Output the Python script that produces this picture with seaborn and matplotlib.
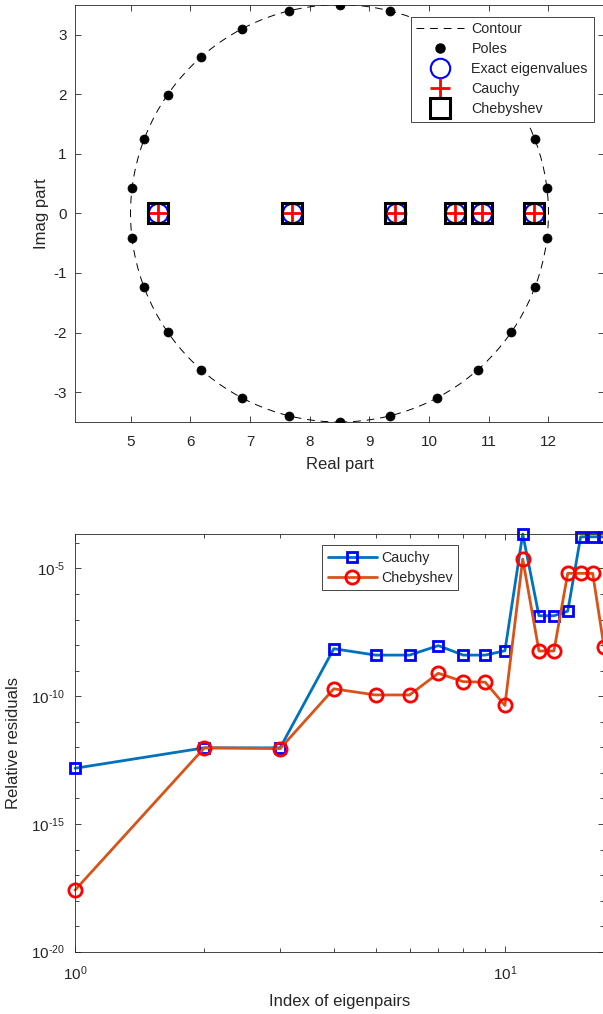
import numpy as np
import pandas as pd
import matplotlib
matplotlib.use("Agg")
import matplotlib.pyplot as plt
from matplotlib.patches import Circle
from matplotlib.lines import Line2D
from matplotlib import ticker
import seaborn as sns

# --- top panel: contour, poles, eigenvalues ---
contour_center = (8.5, 0.0)
contour_radius = 3.5

pole_re = [8.50, 7.66, 6.87, 6.18, 5.62, 5.23, 5.03, 5.03, 5.23, 5.62, 6.18, 6.87, 7.66,
           8.50, 9.34, 10.13, 10.82, 11.38, 11.77, 11.97, 11.97, 11.77, 11.38, 10.82, 10.13, 9.34]
pole_im = [3.50, 3.40, 3.10, 2.62, 1.99, 1.24, 0.42, -0.42, -1.24, -1.99, -2.62, -3.10, -3.40,
           -3.50, -3.40, -3.10, -2.62, -1.99, -1.24, -0.42, 0.42, 1.24, 1.99, 2.62, 3.10, 3.40]

exact_re = [5.46, 7.71, 9.44, 10.44, 10.89, 11.76]
exact_im = [0, 0, 0, 0, 0, 0]
cauchy_re = [5.46, 7.71, 9.43, 10.43, 10.88, 11.75]
cauchy_im = [0, 0, 0, 0, 0, 0]
cheb_re = [5.46, 7.71, 9.43, 10.43, 10.88, 11.75]
cheb_im = [0, 0, 0, 0, 0, 0]

# --- bottom panel: relative residuals (log10 values) ---
index = list(range(1, 18))
cauchy_log = [-12.82, -12.02, -12.02, -8.14, -8.39, -8.39, -8.02, -8.39, -8.39, -8.22,
              -3.65, -6.85, -6.85, -6.67, -3.76, -3.76, -3.76]
cheb_log = [-17.59, -12.02, -12.05, -9.71, -9.95, -9.95, -9.10, -9.43, -9.45, -10.36,
            -4.63, -8.23, -8.23, -5.19, -5.19, -5.19, -8.06]

sns.set_theme(style="ticks")
plt.rcParams["font.family"] = ["Liberation Sans", "DejaVu Sans"]
plt.rcParams["mathtext.fontset"] = "custom"
plt.rcParams["mathtext.rm"] = "Liberation Sans"
plt.rcParams["mathtext.it"] = "Liberation Sans:italic"
plt.rcParams["axes.unicode_minus"] = False

dark = "#262626"
W, H = 603, 1014
fig = plt.figure(figsize=(W / 100, H / 100), dpi=100)

def style_axes(ax, xpad=8, ypad=5):
    for s in ax.spines.values():
        s.set_color(dark)
        s.set_linewidth(0.6)
    ax.tick_params(which="both", direction="in", top=True, right=True,
                   color=dark, labelcolor=dark, labelsize=11, width=0.6)
    ax.tick_params(which="major", length=4)
    ax.tick_params(which="minor", length=3)
    ax.tick_params(axis="x", which="both", pad=xpad)
    ax.tick_params(axis="y", which="both", pad=ypad)

def pow10(v, pos):
    e = int(round(np.log10(v)))
    if e < 0:
        return r"$\mathdefault{10^{\text{-}%d}}$" % (-e)
    return r"$\mathdefault{10^{%d}}$" % e

# top axes
ax1 = fig.add_axes([75 / W, 1 - 422 / H, 529 / W, 417.3 / H])
ax1.add_patch(Circle(contour_center, contour_radius, fill=False, color="black",
                     lw=0.7, ls=(0, (8, 6))))
sns.scatterplot(x=pole_re, y=pole_im, color="black", s=42, edgecolor="black", ax=ax1, zorder=3)
ax1.plot(exact_re, exact_im, ls="none", marker="o", ms=14, mfc="none", mec="blue", mew=1.5, zorder=4)
ax1.plot(cauchy_re, cauchy_im, ls="none", marker="+", ms=14, mec="red", mew=2, zorder=5)
ax1.plot(cheb_re, cheb_im, ls="none", marker="s", ms=15, mfc="none", mec="black", mew=2.2, zorder=6)
ax1.set_xlim(4.07, 12.93)
ax1.set_ylim(-3.5, 3.5)
ax1.set_xticks(range(5, 13))
ax1.set_yticks(range(-3, 4))
ax1.set_xlabel("Real part", fontsize=12, color=dark, labelpad=6)
ax1.set_ylabel("Imag part", fontsize=12, color=dark, labelpad=3)
style_axes(ax1, xpad=9, ypad=6)

handles = [
    Line2D([], [], color="black", lw=0.7, ls=(0, (8, 6))),
    Line2D([], [], ls="none", marker="o", ms=6.5, color="black"),
    Line2D([], [], ls="none", marker="o", ms=14, mfc="none", mec="blue", mew=1.5),
    Line2D([], [], ls="none", marker="+", ms=14, mec="red", mew=2),
    Line2D([], [], ls="none", marker="s", ms=15, mfc="none", mec="black", mew=2.2),
]
labels = ["Contour", "Poles", "Exact eigenvalues", "Cauchy", "Chebyshev"]
leg1 = fig.legend(handles, labels, loc="upper left", bbox_to_anchor=(410.7 / W, 1 - 16.7 / H),
                  borderaxespad=0, fontsize=10.3, frameon=True, fancybox=False, framealpha=1,
                  edgecolor=dark, handlelength=3.3, handletextpad=0.55, labelspacing=0.42,
                  borderpad=0.4)
leg1.get_frame().set_linewidth(0.6)

# bottom axes
df = pd.DataFrame({
    "index": index * 2,
    "residual": [10.0 ** v for v in cauchy_log] + [10.0 ** v for v in cheb_log],
    "method": ["Cauchy"] * len(index) + ["Chebyshev"] * len(index),
})
ax2 = fig.add_axes([75 / W, 1 - 951.7 / H, 529 / W, 417.7 / H])
sns.lineplot(data=df[df["method"] == "Cauchy"], x="index", y="residual", color="#0072BD",
             lw=2, marker="s", ms=6.5, mfc="none", mec="blue", mew=2, label="Cauchy",
             ax=ax2, clip_on=False)
sns.lineplot(data=df[df["method"] == "Chebyshev"], x="index", y="residual", color="#D95319",
             lw=2, marker="o", ms=9.5, mfc="none", mec="red", mew=2, label="Chebyshev",
             ax=ax2, clip_on=False)
ax2.set_xscale("log")
ax2.set_yscale("log")
ax2.set_xlim(1, 17)
ax2.set_ylim(1e-20, 10 ** -3.65)
ax2.xaxis.set_major_locator(ticker.FixedLocator([1, 10]))
ax2.xaxis.set_minor_locator(ticker.LogLocator(base=10, subs=np.arange(2, 10), numticks=20))
ax2.xaxis.set_major_formatter(ticker.FuncFormatter(pow10))
ax2.xaxis.set_minor_formatter(ticker.NullFormatter())
ax2.yaxis.set_major_locator(ticker.FixedLocator([1e-20, 1e-15, 1e-10, 1e-5]))
ax2.yaxis.set_minor_locator(ticker.LogLocator(base=10, subs=(1.0,), numticks=40))
ax2.yaxis.set_major_formatter(ticker.FuncFormatter(pow10))
ax2.yaxis.set_minor_formatter(ticker.NullFormatter())
ax2.set_xlabel("Index of eigenpairs", fontsize=12, color=dark, labelpad=8)
ax2.set_ylabel("Relative residuals", fontsize=12, color=dark, labelpad=7)
style_axes(ax2, xpad=9, ypad=7)

leg2 = ax2.legend(loc="upper left", bbox_to_anchor=(322.3 / W, 1 - 545 / H),
                  bbox_transform=fig.transFigure, borderaxespad=0, fontsize=10.3,
                  frameon=True, fancybox=False, framealpha=1, edgecolor=dark,
                  handlelength=3.4, handletextpad=0.3, labelspacing=0.42, borderpad=0.4)
leg2.get_frame().set_linewidth(0.6)

fig.savefig("out.png", dpi=100)
